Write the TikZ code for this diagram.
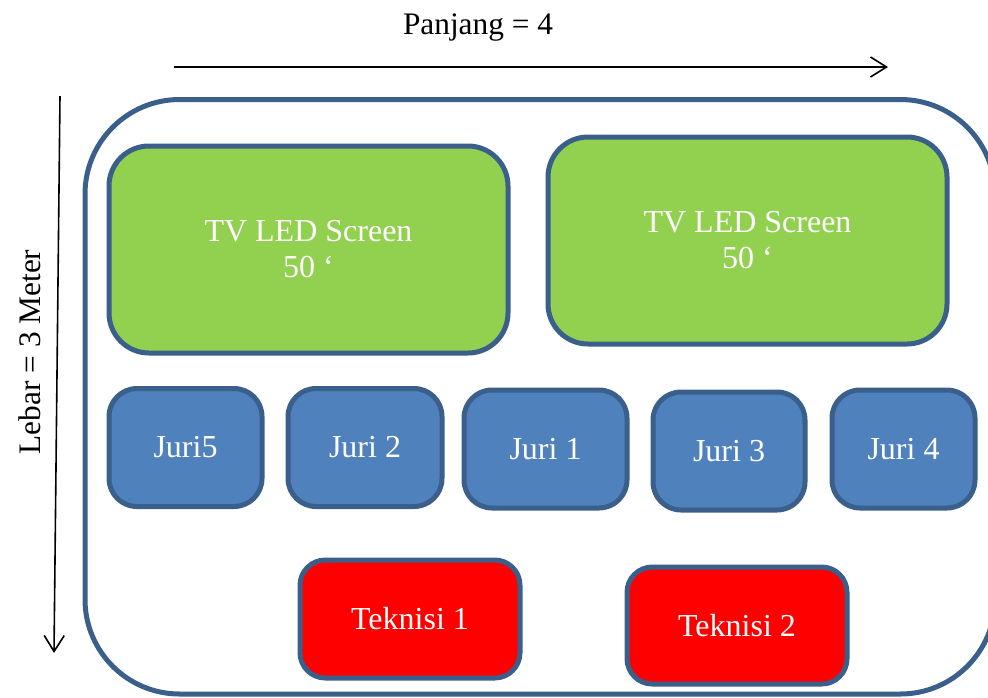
\documentclass[tikz,border=0pt]{standalone}
\usepackage{fontspec}
\setmainfont{Liberation Serif}
\usetikzlibrary{arrows.meta}
\definecolor{tvgreen}{HTML}{92D050}
\definecolor{juriblue}{HTML}{4F81BD}
\definecolor{teknisired}{HTML}{FF0000}
\definecolor{rimblue}{HTML}{3A5F8B}

\begin{document}
\begin{tikzpicture}[x=0.75pt, y=-0.75pt,
	rim/.style={draw=rimblue, line width=3.75pt},
	screen/.style={rim, fill=tvgreen, rounded corners=30pt, text=white, align=center,
		minimum width=299.25pt, minimum height=155.25pt,
		font=\fontsize{24}{27}\selectfont},
	juri/.style={rim, fill=juriblue, rounded corners=21pt, text=white,
		minimum height=88.5pt, font=\fontsize{24}{27}\selectfont},
	teknisi/.style={rim, fill=teknisired, rounded corners=19pt, text=white,
		minimum width=165pt, minimum height=88.5pt, font=\fontsize{24}{27}\selectfont},
	ukuran/.style={line width=1.2pt, -{Straight Barb[length=12pt, width=15pt, line width=1.2pt]}},
	label/.style={font=\fontsize{23.5}{27}\selectfont}]
			%%%%% START %%%%%
			
			\useasboundingbox (0, 0) rectangle (988, 697);
			\clip (0, 0) rectangle (988, 697);
			
			% ruangan
			\draw[rim, rounded corners=71pt] (85, 99.5) rectangle (995, 694);
			
			% ukuran
			\coordinate (pA) at (174, 67);
			\coordinate (pB) at (888, 67);
			\draw[ukuran] (pA) -- (pB);
			\node[label] (panjang) at (478, 28) {Panjang = 4};
			
			\coordinate (lA) at (60, 96);
			\coordinate (lB) at (54, 653);
			\draw[ukuran] (lA) -- (lB);
			\node[label, rotate=90] (lebar) at (30, 352) {Lebar = 3 Meter};
			
			% layar
			\node[screen] (tv1) at (308.5, 249.5) {TV LED Screen\\50 ‘};
			\node[screen] (tv2) at (747.5, 240.5) {TV LED Screen\\50 ‘};
			
			% juri
			\node[juri, minimum width=114.75pt] (juri5) at (185.5, 447.5) {Juri5};
			\node[juri, minimum width=115.5pt] (juri2) at (365, 447.5) {Juri 2};
			\node[juri, minimum width=122.25pt] (juri1) at (545.5, 449) {Juri 1};
			\node[juri, minimum width=114pt] (juri3) at (729, 451) {Juri 3};
			\node[juri, minimum width=107.25pt] (juri4) at (903.5, 449) {Juri 4};
			
			% teknisi
			\node[teknisi] (teknisi1) at (410, 619) {Teknisi 1};
			\node[teknisi, minimum height=87.75pt] (teknisi2) at (737, 625.5) {Teknisi 2};
			
			%%%%% END %%%%%
\end{tikzpicture}
\end{document}
